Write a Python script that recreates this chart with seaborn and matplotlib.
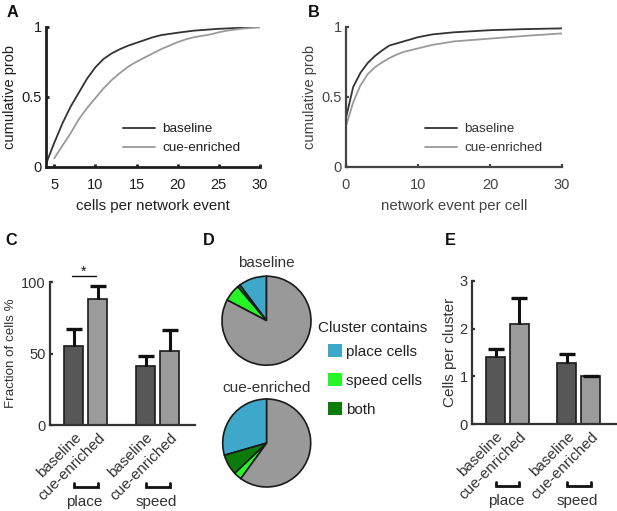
import matplotlib
matplotlib.use("Agg")
import matplotlib.pyplot as plt
import seaborn as sns
import numpy as np
import pandas as pd
from matplotlib.patches import Patch

# ---------------- data ----------------
# Panel A: cumulative prob vs cells per network event
a_x_base = [4, 5, 6, 7, 8, 9, 10, 11, 12, 13, 14, 15, 16, 17, 18, 20, 22, 25, 28, 30]
a_p_base = [0.02, 0.17, 0.31, 0.43, 0.53, 0.63, 0.71, 0.77, 0.81, 0.84, 0.865, 0.885,
            0.905, 0.925, 0.94, 0.957, 0.972, 0.985, 0.993, 1.0]
a_x_cue = [5, 6, 7, 8, 9, 10, 11, 12, 13, 14, 15, 16, 17, 18, 19, 20, 21, 22, 23, 24,
           25, 26, 27, 28, 30]
a_p_cue = [0.06, 0.15, 0.24, 0.34, 0.42, 0.49, 0.56, 0.62, 0.67, 0.715, 0.75, 0.78,
           0.81, 0.84, 0.865, 0.89, 0.91, 0.925, 0.935, 0.945, 0.96, 0.972, 0.98, 0.987, 0.995]

# Panel B: cumulative prob vs network events per cell
b_x_base = [0, 1, 2, 3, 4, 5, 6, 7, 8, 10, 12, 15, 20, 25, 30]
b_p_base = [0.35, 0.57, 0.67, 0.74, 0.79, 0.83, 0.865, 0.88, 0.895, 0.925, 0.945,
            0.96, 0.975, 0.983, 0.988]
b_x_cue = [0, 1, 2, 3, 4, 5, 6, 7, 8, 10, 12, 15, 20, 25, 30]
b_p_cue = [0.29, 0.46, 0.58, 0.66, 0.71, 0.745, 0.775, 0.80, 0.82, 0.845, 0.87,
           0.895, 0.915, 0.935, 0.952]

conditions = ["baseline", "cue-enriched"]
features = ["place", "speed"]

# Panel C: fraction of cells %
c_base_mean = [55.5, 41.0]
c_base_err = [11.5, 7.0]
c_cue_mean = [88.0, 52.0]
c_cue_err = [9.0, 14.5]

# Panel D: cluster composition (%), order: place, both, speed, other
d_labels = ["place cells", "both", "speed cells", "other"]
d_base = [10.2, 1.0, 6.1, 82.7]
d_cue = [29.5, 7.6, 2.9, 60.0]

# Panel E: cells per cluster
e_base_mean = [1.40, 1.29]
e_base_err = [0.17, 0.17]
e_cue_mean = [2.10, 1.01]
e_cue_err = [0.55, 0.0]

# ---------------- style ----------------
sns.set_theme(style="ticks")
plt.rcParams["font.family"] = ["Liberation Sans", "DejaVu Sans"]
plt.rcParams["axes.facecolor"] = "white"

W, H = 617, 511
fig = plt.figure(figsize=(W / 100, H / 100), dpi=100)
fig.patch.set_facecolor("white")


def rect(l, t, r, b):
    return [l / W, 1 - b / H, (r - l) / W, (b - t) / H]


def style_axes(ax, lw, color, labelsize, pad):
    sns.despine(ax=ax)
    for s in ["left", "bottom"]:
        ax.spines[s].set_linewidth(lw)
        ax.spines[s].set_color(color)
    ax.tick_params(direction="in", length=2.5, width=lw, colors=color,
                   labelcolor=color, labelsize=labelsize, pad=pad)
    ax.grid(False)


line_pal = {"baseline": "#333333", "cue-enriched": "#9a9a9a"}

# ---------------- Panel A ----------------
axA = fig.add_axes(rect(46, 26.7, 260, 166.7))
dfA = pd.concat([
    pd.DataFrame({"x": a_x_base, "p": a_p_base, "cond": "baseline"}),
    pd.DataFrame({"x": a_x_cue, "p": a_p_cue, "cond": "cue-enriched"}),
])
sns.lineplot(data=dfA, x="x", y="p", hue="cond", palette=line_pal, ax=axA,
             linewidth=1.3, estimator=None)
axA.set_xlim(4, 30)
axA.set_ylim(0, 1)
axA.set_xticks([5, 10, 15, 20, 25, 30])
axA.set_yticks([0, 0.5, 1])
axA.set_yticklabels(["0", "0.5", "1"])
style_axes(axA, 2.0, "#1e1e1e", 10.5, 3)
axA.tick_params(axis="x", pad=8)
axA.set_xlabel("cells per network event", fontsize=10.8, color="#1e1e1e", labelpad=5)
axA.set_ylabel("cumulative prob", fontsize=10.5, color="#1e1e1e", labelpad=3)
axA.legend(frameon=False, loc="upper left", bbox_to_anchor=(0.36, 0.312),
           borderpad=0, borderaxespad=0, handlelength=2.37, handletextpad=0.52,
           labelspacing=0.48, fontsize=9.7, labelcolor="#1e1e1e")

# ---------------- Panel B ----------------
axB = fig.add_axes(rect(346, 26.7, 562, 166.7))
dfB = pd.concat([
    pd.DataFrame({"x": b_x_base, "p": b_p_base, "cond": "baseline"}),
    pd.DataFrame({"x": b_x_cue, "p": b_p_cue, "cond": "cue-enriched"}),
])
sns.lineplot(data=dfB, x="x", y="p", hue="cond", palette=line_pal, ax=axB,
             linewidth=1.3, estimator=None)
axB.set_xlim(0, 30)
axB.set_ylim(0, 1)
axB.set_xticks([0, 10, 20, 30])
axB.set_yticks([0, 0.5, 1])
axB.set_yticklabels(["0", "0.5", "1"])
style_axes(axB, 1.6, "#444444", 10.5, 3)
axB.tick_params(axis="x", pad=8)
axB.set_xlabel("network event per cell", fontsize=10.8, color="#444444", labelpad=5)
axB.set_ylabel("cumulative prob", fontsize=10.5, color="#444444", labelpad=3)
axB.legend(frameon=False, loc="upper left", bbox_to_anchor=(0.366, 0.312),
           borderpad=0, borderaxespad=0, handlelength=2.37, handletextpad=0.52,
           labelspacing=0.48, fontsize=9.7, labelcolor="#333333")


# ---------------- bar panels ----------------
def bar_panel(ax, base_mean, base_err, cue_mean, cue_err, ylim, yticks, ylabel,
              ylabel_size, labelpad):
    df = pd.DataFrame({
        "feature": features * 2,
        "cond": [conditions[0]] * 2 + [conditions[1]] * 2,
        "val": list(base_mean) + list(cue_mean),
    })
    errs = {conditions[0]: base_err, conditions[1]: cue_err}
    sns.barplot(data=df, x="feature", y="val", hue="cond", order=features,
                hue_order=conditions, palette=["#575757", "#9b9b9b"],
                saturation=1, width=2 / 3, gap=0.2, errorbar=None, ax=ax,
                edgecolor="#1a1a1a", linewidth=1.2, legend=False)
    centers = []
    ticklabels = []
    for cond, cont in zip(conditions, ax.containers):
        for i, p in enumerate(cont.patches):
            xc = p.get_x() + p.get_width() / 2
            top = p.get_height()
            up = errs[cond][i]
            ax.errorbar([xc], [top], yerr=[[0], [up]], fmt="none", ecolor="#111111",
                        elinewidth=2.2, capsize=0, zorder=3)
            ax.plot([xc], [top + up], marker="_", markersize=11, mew=2.4,
                    color="#111111", ls="none", zorder=4, clip_on=False)
            centers.append((i, xc))
            ticklabels.append(cond)
    order = sorted(range(len(centers)), key=lambda k: centers[k][1])
    xs = [centers[k][1] for k in order]
    ax.set_xticks(xs)
    ax.set_xticklabels([ticklabels[k] for k in order], rotation=45, ha="right",
                       va="top", rotation_mode="anchor", fontsize=11)
    ax.set_xlim(-0.5, 1.52)
    ax.set_ylim(*ylim)
    ax.set_yticks(yticks)
    ax.set_xlabel("")
    ax.set_ylabel(ylabel, fontsize=ylabel_size, color="#333333", labelpad=labelpad)
    style_axes(ax, 1.6, "#333333", 10.5, 3)
    ax.tick_params(axis="x", pad=4, labelsize=11)
    # group brackets and labels
    tr = ax.get_xaxis_transform()
    for g in range(len(features)):
        x1, x2 = xs[2 * g], xs[2 * g + 1]
        ax.plot([x1, x1, x2, x2], [-0.405, -0.431, -0.431, -0.405], transform=tr,
                clip_on=False, color="#111111", lw=2.0, solid_joinstyle="miter")
        ax.text((x1 + x2) / 2 - 0.02, -0.54, features[g], transform=tr, ha="center",
                va="center", fontsize=11, color="#333333")
    return xs


axC = fig.add_axes(rect(50, 282, 195, 425))
xsC = bar_panel(axC, c_base_mean, c_base_err, c_cue_mean, c_cue_err, (0, 100),
                [0, 50, 100], "Fraction of cells %", 9.6, 3)
# significance marker
axC.plot([xsC[0] - 0.03, xsC[1] - 0.03], [104.2, 104.2], color="#111111", lw=1.0,
         clip_on=False)
axC.text((xsC[0] + xsC[1]) / 2 - 0.03, 104.0, "*", ha="center", va="baseline",
         fontsize=10, color="#111111")

axE = fig.add_axes(rect(471.7, 281, 616, 424))
bar_panel(axE, e_base_mean, e_base_err, e_cue_mean, e_cue_err, (0, 3),
          [0, 1, 2, 3], "Cells per cluster", 11, 2)

# ---------------- Panel D ----------------
pie_colors = ["#3ea8ca", "#0b7c0b", "#26f626", "#999999"]


def pie_panel(cx, cy, r, values, title, ty):
    size = 2.5 * r
    ax = fig.add_axes(rect(cx - size / 2, cy - size / 2, cx + size / 2, cy + size / 2))
    ax.pie(values, colors=pie_colors, startangle=90, counterclock=True,
           wedgeprops=dict(edgecolor="#1a1a1a", linewidth=1.2))
    ax.set_xlim(-1.25, 1.25)
    ax.set_ylim(-1.25, 1.25)
    ax.set_aspect("equal")
    ax.axis("off")
    fig.text(cx / W, 1 - ty / H, title, ha="center", va="center", fontsize=11,
             color="#333333")


pie_panel(266.5, 320.7, 44.5, d_base, "baseline", 263)
pie_panel(266.7, 443.0, 44.0, d_cue, "cue-enriched", 388)

fig.text(318 / W, 1 - 328 / H, "Cluster contains", ha="left", va="center",
         fontsize=11, color="#222222")
legend_order = [0, 2, 1]
handles = [Patch(facecolor=pie_colors[k], edgecolor="none", label=d_labels[k])
           for k in legend_order]
fig.legend(handles=handles, loc="upper left", bbox_to_anchor=(328.3 / W, 1 - 344 / H),
           bbox_transform=fig.transFigure, frameon=False, fontsize=11,
           handlelength=0.92, handleheight=0.92, handletextpad=0.22,
           labelspacing=0.93, borderpad=0, borderaxespad=0, labelcolor="#222222")

# ---------------- panel letters ----------------
for letter, x, y in [("A", 6.5, 16.7), ("B", 308, 16.7), ("C", 5, 245),
                     ("D", 203, 245), ("E", 445, 245)]:
    fig.text(x / W, 1 - y / H, letter, ha="left", va="baseline", fontsize=11.7,
             fontweight="bold", color="#111111")

fig.savefig("out.png", dpi=100, facecolor="white")
